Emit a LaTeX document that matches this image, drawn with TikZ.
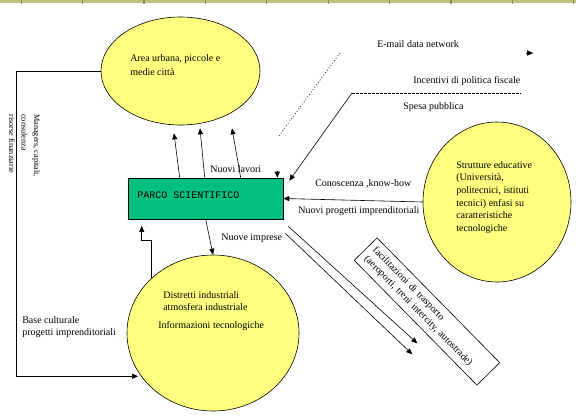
\documentclass[tikz,border=0pt]{standalone}
\usepackage{fontspec}
\setmainfont{Liberation Serif}
\setmonofont{Liberation Mono}
\usetikzlibrary{shapes.geometric,arrows.meta,calc}
\definecolor{giallo}{RGB}{255,255,128}
\definecolor{verde}{RGB}{0,192,128}
\definecolor{kaki}{RGB}{195,192,128}
\definecolor{kakiscuro}{RGB}{140,137,80}

\begin{document}
\begin{tikzpicture}[x=1pt,y=-1pt,>={Triangle[length=6pt,width=5pt]},line width=0.6pt,
        bolla/.style={draw,ellipse,fill=giallo,inner sep=0pt},
        testo/.style={inner sep=0pt,anchor=west,align=left,font=\fontsize{10}{12.6}\selectfont}]
                \useasboundingbox (0,0) rectangle (576,416);
                % barra in alto
                \fill[kaki] (0,0) rectangle (576,3);
                \foreach \i in {0,...,9}
                    \fill[kakiscuro] (20.5+61.4*\i,0) rectangle ++(1.2,3.5);
                % blocchi
                \node[bolla,minimum width=159pt,minimum height=108pt] (urbana) at (180.5,71) {};
                \node[bolla,minimum width=148pt,minimum height=160pt] (educ) at (497,202) {};
                \node[bolla,minimum width=172pt,minimum height=156pt] (distretti) at (213,333) {};
                \node[draw,fill=verde,minimum width=155pt,minimum height=41pt,inner sep=0pt] (parco) at (205.5,198.5) {};
                % testi
                \node[testo,font=\ttfamily\fontsize{10}{12}\selectfont] (parcot) at (137,195) {PARCO SCIENTIFICO};
                \node[testo,font=\fontsize{10}{14}\selectfont] (urbanat) at (130,65) {Area urbana, piccole e\\medie città};
                \node[testo] (educt) at (456,197.5) {Strutture educative\\(Università,\\politecnici, istituti\\tecnici) enfasi su\\caratteristiche\\tecnologiche};
                \node[testo,font=\fontsize{10}{12}\selectfont] (distrettit) at (163,301) {Distretti industriali\\atmosfera industriale};
                \node[testo] (info) at (158,326) {Informazioni tecnologiche};
                \node[testo] (email) at (377,44) {E-mail data network};
                \node[testo] (incentivi) at (413,81) {Incentivi di politica fiscale};
                \node[testo] (spesa) at (403,107) {Spesa pubblica};
                \node[testo] (lavori) at (210,169) {Nuovi lavori};
                \node[testo] (conoscenza) at (315,184) {Conoscenza ,know-how};
                \node[testo] (progetti) at (298,211) {Nuovi progetti imprenditoriali};
                \node[testo] (imprese) at (221,238) {Nuove imprese};
                \node[testo,font=\fontsize{10}{12}\selectfont] (base) at (22,327) {Base culturale\\progetti imprenditoriali};
                \node[testo,anchor=north west,rotate=-90,font=\fontsize{8.2}{12.5}\selectfont] (risorse) at (40,114) {Managers, capitali,\\consulenza\\risorse finanziarie};
                \node[draw,rotate=-45.5,minimum width=175pt,minimum height=32pt,inner xsep=6pt,text width=163pt,align=left,font=\fontsize{10}{12}\selectfont] (trasporti) at (427,311.5) {facilitazioni di trasporto\\(aeroporti, treni intercity, autostrade)};
                % frecce
                \draw[->] ($(parco.north west)+(52,0)$) -- ($(urbana.south)+(-6.5,8)$);
                \draw[->] ($(parco.north west)+(77,0)$) -- ($(urbana.south)+(19.5,3)$);
                \draw[->] ($(parco.north west)+(113,0)$) -- ($(urbana.south)+(51.5,3)$);
                \draw[->,shorten >=3pt] (urbana.west) -- ++(-84,0) |- (distretti.211);
                \draw[->] ($(parco.south west)+(78,0)$) -- (distretti.north);
                \draw[->] (distretti.138) -- ++(0,-38) -- ++(-10,0) -- ++(0,-14);
                \draw[->] (educ.west) -- (parco.east);
                \coordinate (fisco) at (352,93);
                \draw[line width=0.5pt,dash pattern=on 2.5pt off 1.5pt] (fisco) -- (incentivi.east |- fisco);
                \draw[->] (fisco) -- ($(parco.north east)+(6,3)$);
                \draw[line width=0.7pt,dash pattern=on 0.8pt off 2.2pt] ($(email.west)+(-37,9)$) -- ($(parco.north east)+(-5,-41)$);
                \draw[->] ($(parco.north east)+(-6,-7)$) -- ($(parco.north east)+(-6,0)$);
                \draw[->] ($(email.east)+(67,9)$) -- ++(7,0);
                \draw[->] ($(parco.south east)+(5,7)$) -- ++(129,117);
                \draw[->] ($(parco.south east)+(2,14)$) -- ++(127,121);
            \end{tikzpicture}
\end{document}
